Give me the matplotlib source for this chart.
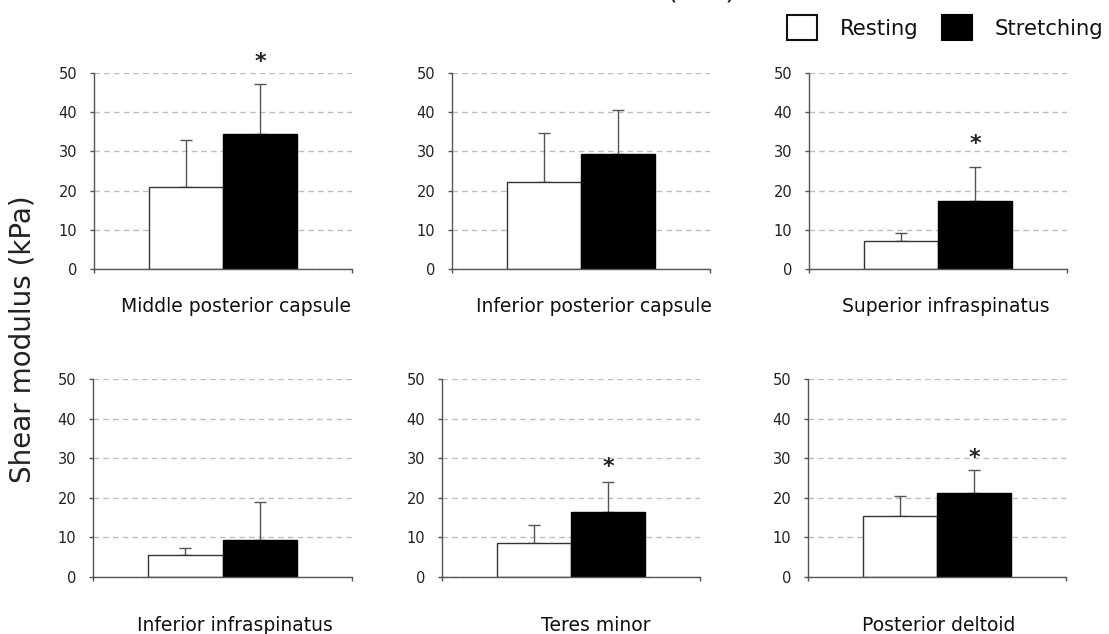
import matplotlib
matplotlib.use("Agg")
import matplotlib.pyplot as plt
from matplotlib.patches import Patch

# ---- data ----
categories = ["Middle posterior capsule", "Inferior posterior capsule", "Superior infraspinatus",
              "Inferior infraspinatus", "Teres minor", "Posterior deltoid"]
resting_mean = [20.9, 22.3, 7.2, 5.6, 8.7, 15.4]
resting_sd = [12.0, 12.4, 2.0, 1.7, 4.5, 5.0]
stretching_mean = [34.4, 29.4, 17.4, 9.4, 16.3, 21.2]
stretching_sd = [12.8, 11.2, 8.5, 9.5, 7.8, 5.8]
asterisk_y = [52.8, None, 31.8, None, 27.9, 30.1]
series_names = ["Resting", "Stretching"]
yticks = [0, 10, 20, 30, 40, 50]

# ---- layout (pixels) ----
W, H = 1109, 634
plt.rcParams['font.family'] = ['DejaVu Sans']
fig = plt.figure(figsize=(W / 100, H / 100), dpi=100)

# (left, right, top, bottom) in pixels
boxes = [(94, 352, 73, 269), (452, 710, 73, 269), (809, 1067, 73, 269),
         (93, 352, 379, 577), (442, 700, 379, 577), (808, 1066, 379, 577)]
label_pos = [(236, 312), (594, 312), (946, 312), (235, 631), (596, 631), (939, 631)]

spine_c = '#555555'
bw = 0.287
for i, (l, r, t, b) in enumerate(boxes):
    ax = fig.add_axes([l / W, (H - b) / H, (r - l) / W, (b - t) / H])
    ax.set_xlim(-0.5, 0.5)
    ax.set_ylim(0, 50)
    ax.set_axisbelow(True)
    ax.yaxis.grid(True, linestyle=(0, (4, 3)), color='#bdbdbd', linewidth=1)
    xs = [-bw / 2, bw / 2]
    ax.bar(xs[0], resting_mean[i], width=bw, color='white', edgecolor='#333333', linewidth=1.0, zorder=2)
    ax.bar(xs[1], stretching_mean[i], width=bw, color='black', edgecolor='black', linewidth=1.0, zorder=2)
    ax.errorbar(xs[0], resting_mean[i], yerr=[[0], [resting_sd[i]]], fmt='none', ecolor='#555555',
                elinewidth=1, capsize=4, capthick=1, zorder=1)
    ax.errorbar(xs[1], stretching_mean[i], yerr=[[0], [stretching_sd[i]]], fmt='none', ecolor='#555555',
                elinewidth=1, capsize=4, capthick=1, zorder=1)
    if asterisk_y[i] is not None:
        ax.text(xs[1], asterisk_y[i], '*', ha='center', va='center', fontsize=16, fontweight='bold',
                color='#222222', clip_on=False)
    for s in ['top', 'right']:
        ax.spines[s].set_visible(False)
    for s in ['left', 'bottom']:
        ax.spines[s].set_color(spine_c)
        ax.spines[s].set_linewidth(1)
    ax.set_yticks(yticks)
    ax.set_yticklabels([str(v) for v in yticks])
    ax.set_xticks([-0.5, 0.5])
    ax.set_xticklabels(['', ''])
    ax.tick_params(axis='y', length=3, width=1, color=spine_c, pad=9, labelsize=10.5, labelcolor='#222222')
    ax.tick_params(axis='x', length=3, width=1, color=spine_c)
    lx, ly = label_pos[i]
    fig.text(lx / W, (H - ly) / H, categories[i], ha='center', va='baseline', fontsize=13.5,
             color='#111111')

fig.text(23 / W, (H - 339) / H, "Shear modulus (kPa)", rotation=90, ha='center', va='center',
         fontsize=20, color='#222222')
fig.text(702 / W, 1 + 2.0 / H, "(kPa)", ha='center', va='baseline', fontsize=20, color='#222222')

handles = [Patch(facecolor='white', edgecolor='#111111', linewidth=1.5),
           Patch(facecolor='black', edgecolor='black', linewidth=1.5)]
fig.legend(handles, series_names, loc='center left', bbox_to_anchor=(787 / W, 1 - 27.5 / H),
           ncol=2, frameon=False, fontsize=15.2, handlelength=1.42, handleheight=1.38,
           handletextpad=1.08, columnspacing=1.1, borderpad=0, borderaxespad=0, labelcolor='#111111')

fig.savefig('out.png', dpi=100)
